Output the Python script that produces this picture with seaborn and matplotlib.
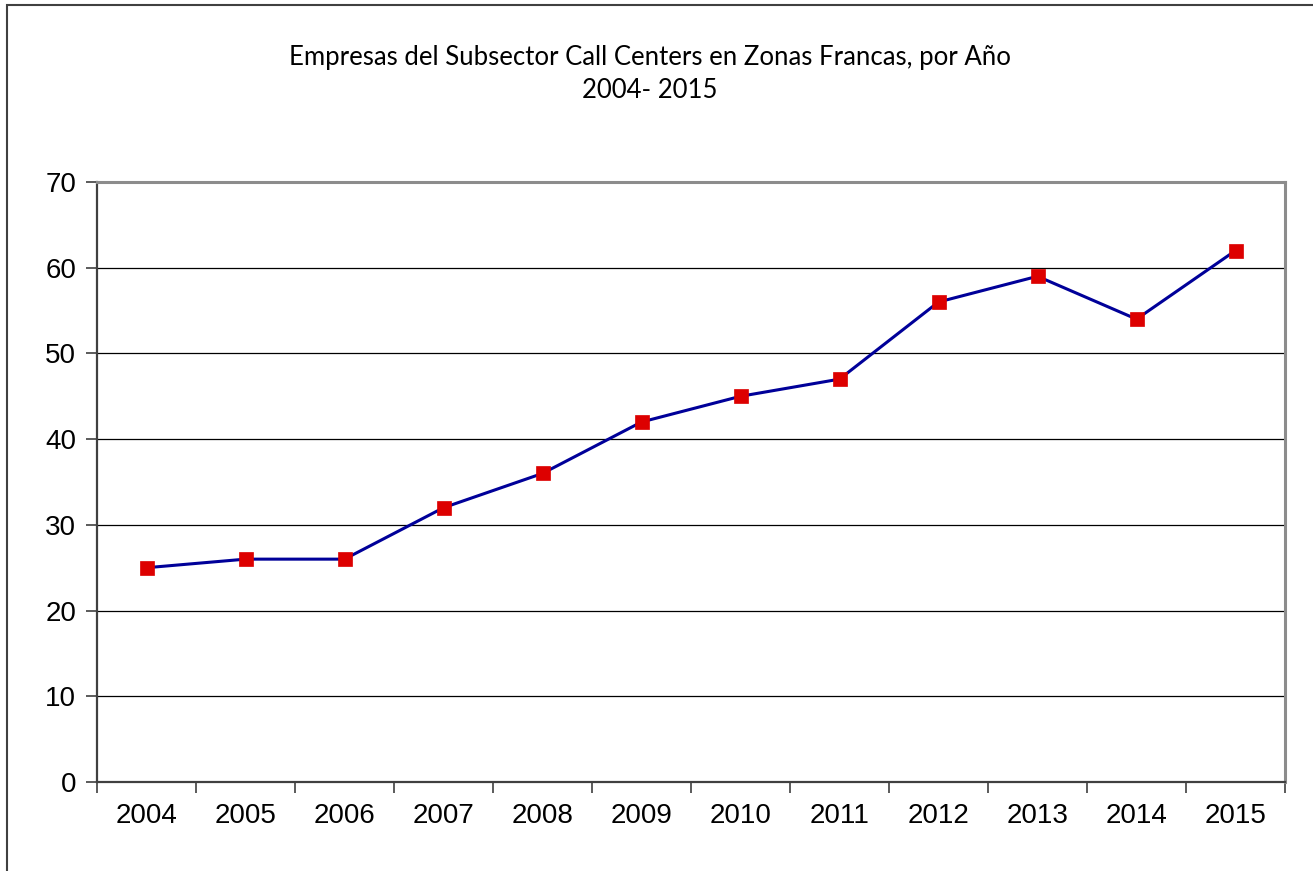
import numpy as np
import pandas as pd
import matplotlib
matplotlib.use("Agg")
import matplotlib.pyplot as plt
from matplotlib.patches import Rectangle
from matplotlib.ticker import FixedLocator
import seaborn as sns

#%% Data

years = ['2004', '2005', '2006', '2007', '2008', '2009',
         '2010', '2011', '2012', '2013', '2014', '2015']
empresas = [25, 26, 26, 32, 36, 42, 45, 47, 56, 59, 54, 62]

df = pd.DataFrame({'pos': np.arange(len(years)), 'year': years, 'n': empresas})

#%% Plot

sns.set_style('white')
plt.rcParams['font.family'] = ['Liberation Sans', 'DejaVu Sans']
plt.rcParams['text.color'] = 'black'
plt.rcParams['xtick.color'] = 'black'
plt.rcParams['ytick.color'] = 'black'

fig = plt.figure(figsize=(13.13, 8.71), dpi=100)
ax = fig.add_axes([97/1313, 1-782/871, (1285-97)/1313, (782-182)/871])

sns.lineplot(data=df, x='pos', y='n', ax=ax, color='#000099', linewidth=2.2,
             marker='s', markersize=10.5, markerfacecolor='#DD0000',
             markeredgecolor='#DD0000', markeredgewidth=0.5, zorder=3)

ax.set_xlim(-0.5, len(years) - 0.5)
ax.set_ylim(0, 70)
ax.set_yticks(range(0, 71, 10))
ax.set_xticks(df['pos'])
ax.set_xticklabels(years)
ax.xaxis.set_minor_locator(FixedLocator(np.arange(-0.5, len(years), 1)))
ax.set_xlabel('')
ax.set_ylabel('')

ax.yaxis.grid(True, color='black', linewidth=0.9)
ax.set_axisbelow(True)

ax.tick_params(axis='x', which='major', length=0, pad=15, labelsize=20,
               labelcolor='black')
ax.tick_params(axis='x', which='minor', length=8, width=1.2, color='#404040',
               direction='out', bottom=True)
ax.tick_params(axis='y', length=8, width=1.2, color='#404040', direction='out',
               left=True, pad=7, labelsize=20, labelcolor='black')

for s in ['top', 'right']:
    ax.spines[s].set_color('#8c8c8c')
    ax.spines[s].set_linewidth(2.2)
for s in ['left', 'bottom']:
    ax.spines[s].set_color('#404040')
    ax.spines[s].set_linewidth(1.6)

fig.text(650/1313, 1-57/871, 'Empresas del Subsector Call Centers en Zonas Francas, por Año',
         ha='center', va='center', fontsize=18.5, color='black',
         family=['Lato', 'DejaVu Sans'])
fig.text(650/1313, 1-90/871, '2004- 2015',
         ha='center', va='center', fontsize=18.5, color='black',
         family=['Lato', 'DejaVu Sans'])

# outer chart border
fig.patches.append(Rectangle((7/1313, -0.05), 1.1, 1.05 - 5/871,
                             transform=fig.transFigure, fill=False,
                             edgecolor='#404040', linewidth=1.5))

plt.savefig('out.png', dpi=100)
